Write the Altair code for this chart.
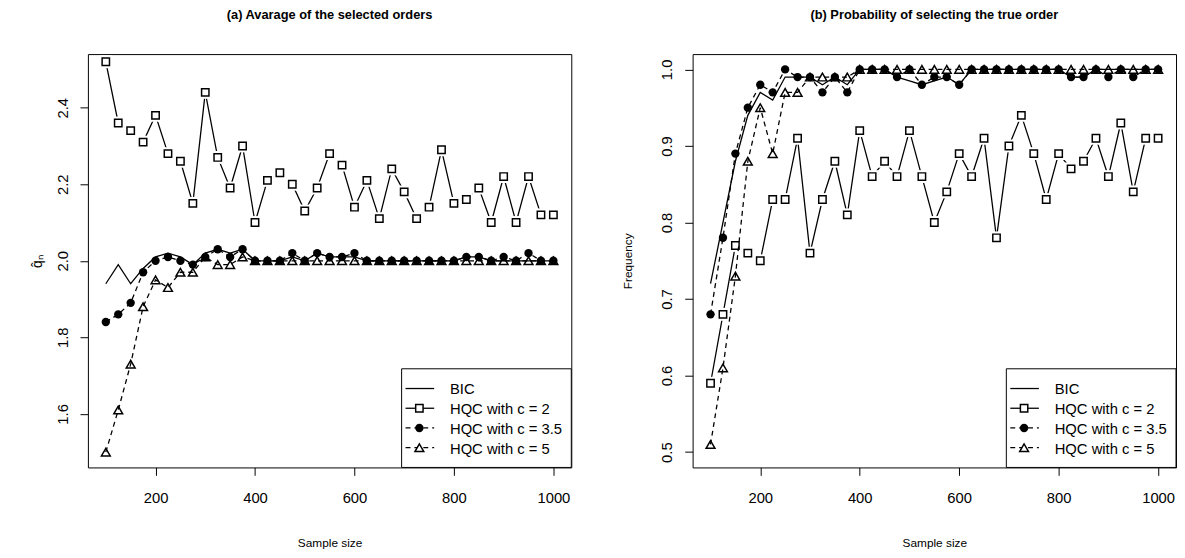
import altair as alt
import pandas as pd

# ---------------- data ----------------
sample_size = list(range(100, 1001, 25))
series_names = ["BIC", "HQC with c = 2", "HQC with c = 3.5", "HQC with c = 5"]

# (a) average of the selected orders
bic_a = [1.94, 1.99, 1.94, 1.98, 2.01, 2.02, 2.01, 1.99, 2.02, 2.03, 2.02, 2.03,
         2.00, 2.00, 2.00, 2.01, 2.00, 2.02, 2.01, 2.01, 2.01, 2.00, 2.00, 2.00,
         2.00, 2.00, 2.00, 2.00, 2.00, 2.01, 2.01, 2.00, 2.00, 2.00, 2.00, 2.00, 2.00]
hqc2_a = [2.52, 2.36, 2.34, 2.31, 2.38, 2.28, 2.26, 2.15, 2.44, 2.27, 2.19, 2.30,
          2.10, 2.21, 2.23, 2.20, 2.13, 2.19, 2.28, 2.25, 2.14, 2.21, 2.11, 2.24,
          2.18, 2.11, 2.14, 2.29, 2.15, 2.16, 2.19, 2.10, 2.22, 2.10, 2.22, 2.12, 2.12]
hqc35_a = [1.84, 1.86, 1.89, 1.97, 2.00, 2.01, 2.00, 1.99, 2.01, 2.03, 2.01, 2.03,
           2.00, 2.00, 2.00, 2.02, 2.00, 2.02, 2.01, 2.01, 2.02, 2.00, 2.00, 2.00,
           2.00, 2.00, 2.00, 2.00, 2.00, 2.01, 2.01, 2.00, 2.01, 2.00, 2.02, 2.00, 2.00]
hqc5_a = [1.50, 1.61, 1.73, 1.88, 1.95, 1.93, 1.97, 1.97, 2.01, 1.99, 1.99, 2.01,
          2.00, 2.00, 2.00, 2.00, 2.00, 2.00, 2.00, 2.00, 2.00, 2.00, 2.00, 2.00,
          2.00, 2.00, 2.00, 2.00, 2.00, 2.00, 2.00, 2.00, 2.00, 2.00, 2.00, 2.00, 2.00]

# (b) probability of selecting the true order
bic_b = [0.72, 0.80, 0.88, 0.94, 0.97, 0.96, 0.99, 0.99, 0.99, 0.98, 0.99, 0.98,
         1.00, 1.00, 1.00, 0.99, 0.985, 0.98, 0.985, 0.99, 0.98, 1.00, 1.00, 1.00,
         1.00, 1.00, 1.00, 1.00, 1.00, 0.99, 0.99, 1.00, 1.00, 1.00, 1.00, 1.00, 1.00]
hqc2_b = [0.59, 0.68, 0.77, 0.76, 0.75, 0.83, 0.83, 0.91, 0.76, 0.83, 0.88, 0.81,
          0.92, 0.86, 0.88, 0.86, 0.92, 0.86, 0.80, 0.84, 0.89, 0.86, 0.91, 0.78,
          0.90, 0.94, 0.89, 0.83, 0.89, 0.87, 0.88, 0.91, 0.86, 0.93, 0.84, 0.91, 0.91]
hqc35_b = [0.68, 0.78, 0.89, 0.95, 0.98, 0.97, 1.00, 0.99, 0.99, 0.97, 0.99, 0.97,
           1.00, 1.00, 1.00, 0.99, 1.00, 0.98, 0.99, 0.99, 0.98, 1.00, 1.00, 1.00,
           1.00, 1.00, 1.00, 1.00, 1.00, 0.99, 0.99, 1.00, 0.99, 1.00, 0.99, 1.00, 1.00]
hqc5_b = [0.51, 0.61, 0.73, 0.88, 0.95, 0.89, 0.97, 0.97, 0.99, 0.99, 0.99, 0.99,
          1.00, 1.00, 1.00, 1.00, 1.00, 1.00, 1.00, 1.00, 1.00, 1.00, 1.00, 1.00,
          1.00, 1.00, 1.00, 1.00, 1.00, 1.00, 1.00, 1.00, 1.00, 1.00, 1.00, 1.00, 1.00]

x_ticks = [200, 400, 600, 800, 1000]
y_ticks_a = [1.6, 1.8, 2.0, 2.2, 2.4]
y_ticks_b = [0.5, 0.6, 0.7, 0.8, 0.9, 1.0]

# ---------------- style ----------------
FONT = "Liberation Sans"
W, H = 490, 419
LW = 1.3
DASH = [5, 4]


def panel(values, ydom, yticks, ytitle, ttl, title_x, ytitle_size):
    rows = []
    for name, arr in zip(series_names, values):
        for xv, v in zip(sample_size, arr):
            rows.append({"n": xv, "v": v, "s": name})
    df = pd.DataFrame(rows)
    base = alt.Chart(df)

    xenc = alt.X("n:Q", scale=alt.Scale(domain=[64, 1036], nice=False, zero=False),
                 axis=alt.Axis(values=x_ticks, format="d", title="Sample size",
                               titleX=W / 2, titleY=80, titleAlign="center",
                               titleBaseline="alphabetic", labelPadding=16))
    yenc = alt.Y("v:Q", scale=alt.Scale(domain=ydom, nice=False, zero=False),
                 axis=alt.Axis(values=yticks, format=".1f", title=ytitle,
                               labelAngle=270, labelAlign="center",
                               labelBaseline="alphabetic", labelPadding=13,
                               titleAngle=270, titleAlign="center",
                               titleFontSize=ytitle_size,
                               titleBaseline="alphabetic", titleX=title_x, titleY=H / 2))

    def sel(i):
        return base.transform_filter(alt.datum.s == series_names[i])

    layers = [
        sel(0).mark_line(color="black", strokeWidth=LW).encode(x=xenc, y=yenc),
        sel(1).mark_line(color="black", strokeWidth=LW).encode(x=xenc, y=yenc),
        sel(1).mark_point(shape="square", filled=True, fill="white", size=170,
                          opacity=1, strokeWidth=0).encode(x=xenc, y=yenc),
        sel(1).mark_point(shape="square", filled=True, fill="white", stroke="black",
                          strokeWidth=1.5, size=56, opacity=1).encode(x=xenc, y=yenc),
        sel(2).mark_line(color="black", strokeWidth=LW, strokeDash=DASH).encode(x=xenc, y=yenc),
        sel(2).mark_point(shape="circle", filled=True, color="black", size=72,
                          opacity=1).encode(x=xenc, y=yenc),
        sel(3).mark_line(color="black", strokeWidth=LW, strokeDash=DASH).encode(x=xenc, y=yenc),
        sel(3).mark_point(shape="triangle-up", filled=False, stroke="black",
                          strokeWidth=1.5, size=80, opacity=1).encode(x=xenc, y=yenc),
    ]

    # legend (bottom-right box)
    one = alt.Chart(pd.DataFrame({"k": [0]}))
    lx0, lx1, ly0, ly1 = W - 172, W, H - 100, H
    layers.append(one.mark_rect(fill="white", stroke="black", strokeWidth=1).encode(
        x=alt.value(lx0), x2=alt.value(lx1), y=alt.value(ly0), y2=alt.value(ly1)))
    for i, name in enumerate(series_names):
        yy = ly0 + 20 + 20 * i
        rule_kw = dict(color="black", strokeWidth=LW)
        if i >= 2:
            rule_kw["strokeDash"] = DASH
        layers.append(one.mark_rule(**rule_kw).encode(
            x=alt.value(lx0 + 4), x2=alt.value(lx0 + 33), y=alt.value(yy)))
        if i == 1:
            layers.append(one.mark_point(shape="square", filled=True, fill="white",
                                         stroke="black", strokeWidth=1.5, size=56,
                                         opacity=1).encode(x=alt.value(lx0 + 18), y=alt.value(yy)))
        elif i == 2:
            layers.append(one.mark_point(shape="circle", filled=True, color="black",
                                         size=72, opacity=1).encode(x=alt.value(lx0 + 18), y=alt.value(yy)))
        elif i == 3:
            layers.append(one.mark_point(shape="triangle-up", filled=True, fill="white",
                                         stroke="black", strokeWidth=1.5, size=80,
                                         opacity=1).encode(x=alt.value(lx0 + 18), y=alt.value(yy)))
        layers.append(one.mark_text(align="left", baseline="middle", font=FONT,
                                    fontSize=15, color="black").encode(
            x=alt.value(lx0 + 49), y=alt.value(yy + 1), text=alt.value(name)))

    return alt.layer(*layers).properties(
        width=W, height=H,
        title=alt.TitleParams(ttl, font=FONT, fontSize=13, fontWeight="bold",
                              anchor="middle", baseline="alphabetic", offset=23,
                              color="black"))


pa = panel([bic_a, hqc2_a, hqc35_a, hqc5_a], [1.46, 2.54], y_ticks_a, "q\u0302\u2099",
           "(a) Avarage of the selected orders", -47, 14)
pb = panel([bic_b, hqc2_b, hqc35_b, hqc5_b], [0.48, 1.02], y_ticks_b, "Frequency",
           "(b) Probability of selecting the true order", -61.5, 12)

chart = alt.hconcat(pa, pb, spacing=50).properties(
    padding={"left": 22, "top": -4, "right": 0, "bottom": 0},
    background="white"
).configure_view(stroke="black", strokeWidth=1).configure_axis(
    domain=False, grid=False, ticks=True, tickColor="black", tickSize=8, tickWidth=1,
    labelFont=FONT, labelFontSize=15, labelColor="black",
    titleFont=FONT, titleFontSize=12, titleFontWeight="normal", titleColor="black"
)

chart.save("out.html", embed_options={"renderer": "svg", "actions": False})
